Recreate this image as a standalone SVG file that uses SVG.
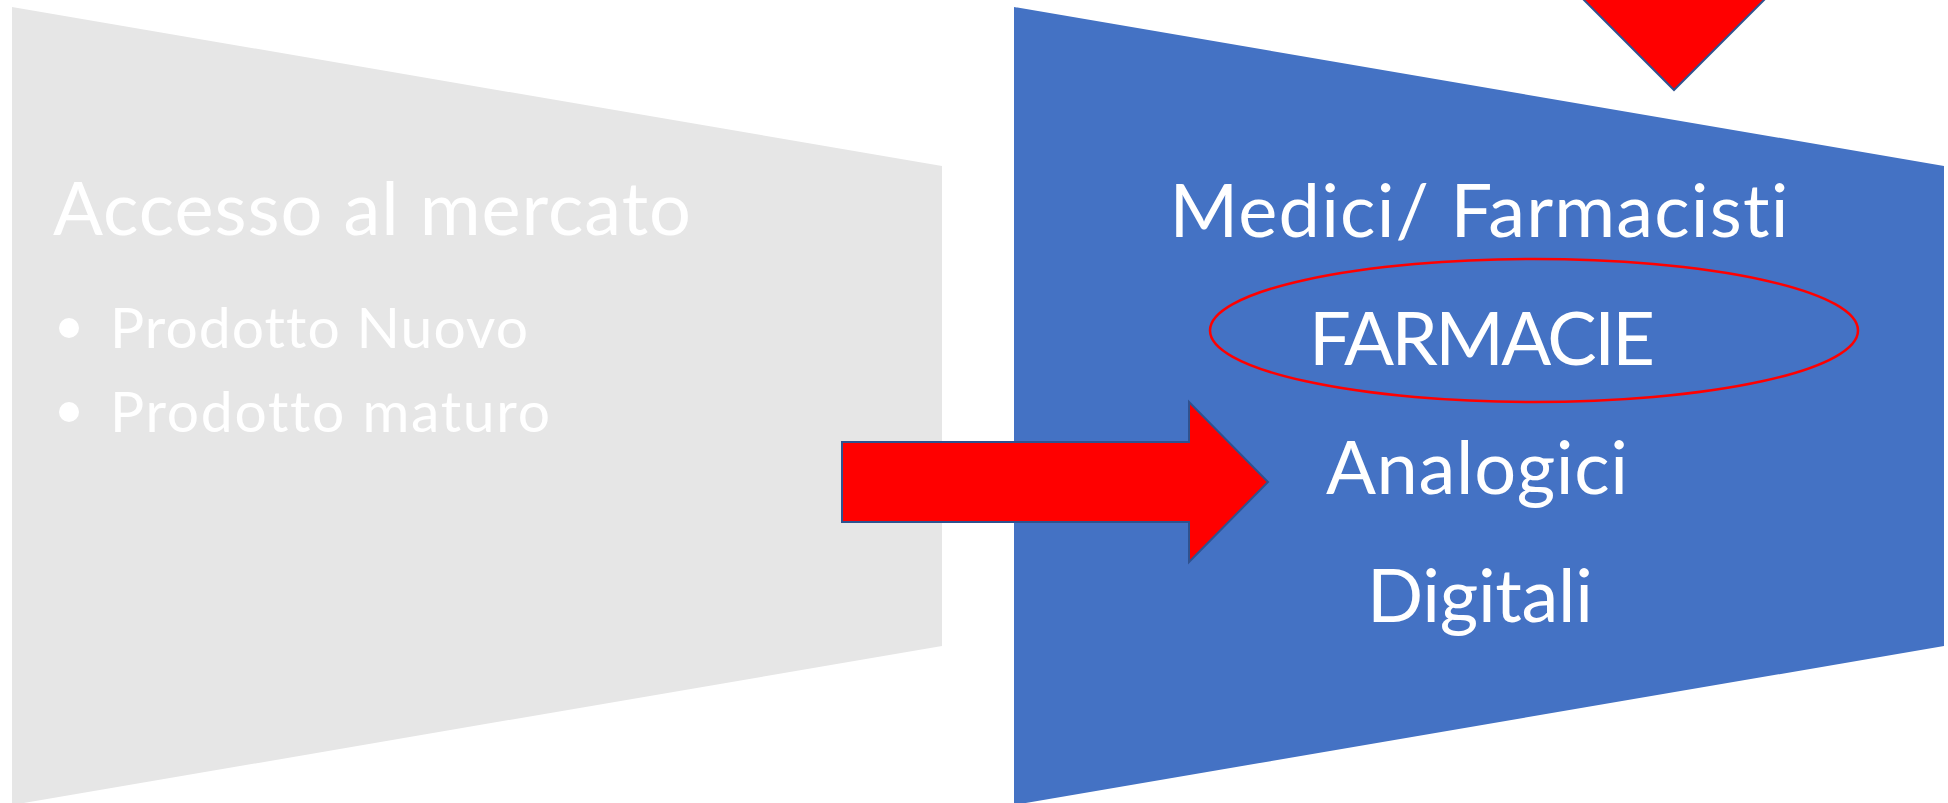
<svg xmlns="http://www.w3.org/2000/svg" width="1948" height="803" viewBox="0 0 1948 803">
  <style>
    .txt { font-family: Lato, "Open Sans", "Liberation Sans", sans-serif; fill: #FFFFFF; font-variant-ligatures: none; font-feature-settings: "liga" 0, "clig" 0, "dlig" 0; }
    .big { font-size: 74px; }
    .small { font-size: 57px; }
    .mid { text-anchor: middle; }
    .arrow { fill: #FF0000; stroke: #2F528F; stroke-width: 2; stroke-linejoin: miter; }
  </style>
  <rect width="1948" height="803" fill="#FFFFFF"/>

  <g id="market-access">
    <polygon points="12,7 942,166 942,646 12,805" fill="#E6E6E6"/>
    <text class="txt big" x="53" y="235" textLength="638">Accesso al mercato</text>
    <circle cx="69" cy="328" r="10" fill="#FFFFFF"/>
    <text class="txt small" x="110" y="348" textLength="418">Prodotto Nuovo</text>
    <circle cx="69" cy="412" r="10" fill="#FFFFFF"/>
    <text class="txt small" x="110" y="432" textLength="440">Prodotto maturo</text>
  </g>

  <g id="channels">
    <polygon points="1014,7 1944,166 1944,646 1014,805" fill="#4472C4"/>
    <text class="txt big mid" x="1479" y="237" textLength="619">Medici/ Farmacisti</text>
    <text class="txt big mid" x="1477" y="494" textLength="302">Analogici</text>
    <text class="txt big mid" x="1480" y="622" textLength="226">Digitali</text>
  </g>

  <g id="farmacie">
    <ellipse cx="1534" cy="330.5" rx="324" ry="71.5" fill="none" stroke="#FF0000" stroke-width="2.5"/>
    <text class="txt big mid" x="1482" y="365" textLength="346">FARMACIE</text>
  </g>

  <g id="connectors">
    <polygon class="arrow" points="842,442 1189,442 1189,402 1268,482 1189,562 1189,522 842,522"/>
    <polygon class="arrow" points="1572,-12 1674,90 1776,-12"/>
  </g>
</svg>
